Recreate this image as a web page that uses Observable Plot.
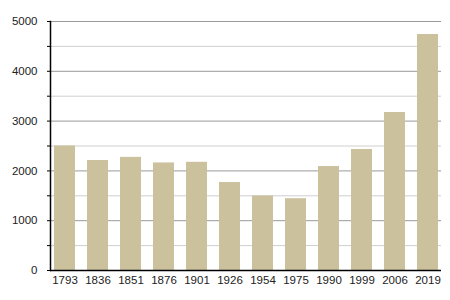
<!DOCTYPE html>
<html><head><meta charset="utf-8">
<script src="https://cdn.jsdelivr.net/npm/d3@7"></script>
<script src="https://cdn.jsdelivr.net/npm/@observablehq/plot@0.6"></script>
<style>body{margin:0;background:#fff}</style>
</head><body><div id="chart"></div>
<script>
const years = ["1793","1836","1851","1876","1901","1926","1954","1975","1990","1999","2006","2019"];
const population = [2500, 2209, 2272, 2160, 2173, 1767, 1495, 1442, 2088, 2430, 3173, 4739];
const majorTicks = [0, 1000, 2000, 3000, 4000, 5000];
const minorTicks = [500, 1500, 2500, 3500, 4500];

const data = years.map((y, i) => ({year: y, value: population[i]}));

const plot = Plot.plot({
  width: 450, height: 300,
  marginLeft: 50, marginRight: 9, marginTop: 21, marginBottom: 30,
  style: {fontFamily: "'Liberation Sans', Arial, sans-serif", fontSize: "11.5px", color: "#222", background: "#fff"},
  x: {domain: years, paddingInner: 0.37, paddingOuter: 0.01, align: 0.5},
  y: {domain: [0, 5000]},
  marks: [
    Plot.ruleY(minorTicks, {stroke: "#cfcfcf", strokeWidth: 1, strokeOpacity: 1}),
    Plot.ruleY(majorTicks.slice(1), {stroke: "#999", strokeWidth: 1, strokeOpacity: 1}),
    Plot.barY(data, {x: "year", y: "value", fill: "#cbc29d"}),
    Plot.axisY({ticks: majorTicks, tickSize: 3, tickPadding: 10, tickFormat: d3.format("d"), label: null, stroke: "#000", strokeOpacity: 1}),
    Plot.axisY({ticks: minorTicks, tickSize: 3, tickFormat: () => "", label: null, stroke: "#000", strokeOpacity: 1}),
    Plot.axisX({tickSize: 0, tickPadding: 5, label: null}),
    Plot.frame({anchor: "left", stroke: "#000", strokeWidth: 1.5}),
    Plot.ruleY([0], {stroke: "#000", strokeWidth: 1.5})
  ]
});
document.getElementById("chart").append(plot);
</script>
</body></html>
